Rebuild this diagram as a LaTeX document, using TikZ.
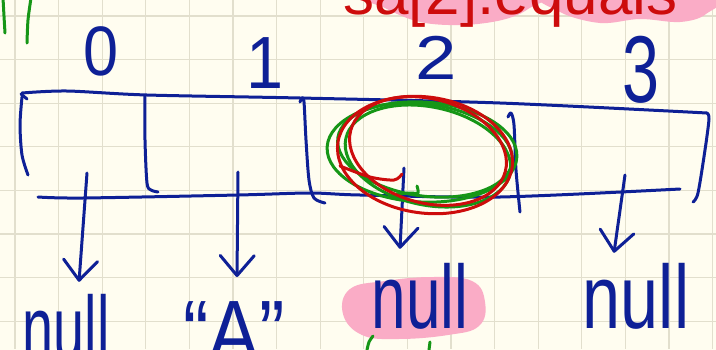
\documentclass[tikz,border=0pt]{standalone}
\usepackage{fontspec}
\usepackage{graphicx}
\setmainfont{Liberation Sans}
\usetikzlibrary{arrows.meta}
\definecolor{ink}{RGB}{14,32,150}
\definecolor{redink}{RGB}{205,12,12}
\definecolor{greenink}{RGB}{22,150,22}
\definecolor{hilite}{RGB}{250,172,198}
\definecolor{paper}{RGB}{255,253,240}
\definecolor{gridc}{RGB}{226,223,205}
\newcommand{\hwt}[2][0.68]{\scalebox{#1}[1]{#2}}
\begin{document}
\begin{tikzpicture}[x=1pt,y=-1pt,
  pen/.style={draw=ink, line width=3pt, line cap=round, line join=round},
  gpen/.style={draw=greenink, line width=3pt, line cap=round, line join=round},
  rpen/.style={draw=redink, line width=3pt, line cap=round, line join=round},
  lbl/.style={inner sep=0pt, outer sep=0pt, text=ink, anchor=base},
  arr/.style={pen, -{Straight Barb[length=20pt,width=34pt,line cap=round,line join=round]}},
  blob/.style={fill=hilite, draw=none}]
\useasboundingbox (0,0) rectangle (716,349);
\clip (0,0) rectangle (716,349);
\fill[paper] (-2,-2) rectangle (718,351);
% grid
\foreach \k in {0,...,16} \draw[gridc, line width=1.2pt] ({15+43.6*\k},0) -- ({15+43.6*\k},349);
\foreach \k in {0,...,7} \draw[gridc, line width=1.2pt] (0,{16+43.6*\k}) -- (716,{16+43.6*\k});

% highlight blobs
\fill[blob] plot[smooth cycle, tension=0.6] coordinates {(366,-6) (385,8) (420,22) (462,25) (502,20) (528,9) (536,-6)};
\fill[blob] plot[smooth cycle, tension=0.6] coordinates {(548,-6) (560,12) (600,23) (640,19) (680,22) (706,14) (714,-6)};
\fill[blob] plot[smooth cycle, tension=0.7] coordinates {(350,289) (385,281) (432,277) (472,281) (485,302) (479,326) (448,335) (398,339) (362,335) (343,314)};

% top red text (cut off by the page edge)
\node[inner sep=0pt, anchor=base west, text=redink, font=\fontsize{62}{62}\selectfont] (code) at (343,14) {sa[2].equals};

% green strokes top left
\draw[gpen] plot[smooth] coordinates {(3,-2) (4,16) (5,33)};
\draw[gpen] plot[smooth] coordinates {(31,-2) (28,20) (27,43)};

% index labels
\node[lbl, font=\fontsize{70}{70}\selectfont] (i0) at (101,75) {\hwt[0.9]{0}};
\node[lbl, font=\fontsize{74}{74}\selectfont] (i1) at (265,88) {\hwt[0.9]{1}};
\node[lbl, font=\fontsize{62}{62}\selectfont] (i2) at (436,79) {\hwt[1.2]{2}};
\node[lbl, font=\fontsize{95}{95}\selectfont] (i3) at (641,102) {\hwt[0.7]{3}};

% array outline
\draw[pen] plot[smooth, tension=0.5] coordinates {(22,93) (67,91) (147,95) (300,98) (500,103) (707,113)};
\draw[pen] (21,94) -- (27,99);
\draw[pen] plot[smooth] coordinates {(22,97) (20,125) (22,155) (28,175)};
\draw[pen] plot[smooth] coordinates {(707,113) (709,119) (705,150) (698,193) (693,202)};
\draw[pen] plot[smooth, tension=0.5] coordinates {(38,197) (83,198) (238,195) (310,193) (360,195) (500,197) (680,189)};
% dividers
\draw[pen] plot[smooth] coordinates {(145,96) (145,140) (147,183) (151,190) (158,192)};
\draw[pen] plot[smooth] coordinates {(300,102) (302,98) (304,102) (306,140) (309,180) (314,198) (325,203)};
\draw[pen] plot[smooth] coordinates {(508,117) (511,113) (514,125) (516,170) (520,212)};

% value labels
\node[lbl, font=\fontsize{90}{90}\selectfont] (n1) at (66,359) {\hwt[0.62]{null}};
\node[lbl, font=\fontsize{90}{90}\selectfont] (n2) at (234,363) {\hwt[0.85]{“A”}};
\node[lbl, font=\fontsize{90}{90}\selectfont] (n3) at (420,328) {\hwt[0.69]{null}};
\node[lbl, font=\fontsize{90}{90}\selectfont] (n4) at (636,328) {\hwt[0.76]{null}};

% arrows from cells to values
\coordinate (s1) at (87,173);
\coordinate (s2) at (238,172);
\coordinate (s3) at (404,168);
\coordinate (s4) at (625,175);
\draw[arr] (s1) -- ([xshift=13pt,yshift=12pt]n1.north);
\draw[arr] (s2) -- ([xshift=3pt,yshift=24pt]n2.north);
\draw[arr] (s3) -- ([xshift=-20pt,yshift=14pt]n3.north);
\draw[arr] (s4) -- ([xshift=-22pt,yshift=10pt]n4.north);

% green circling
\draw[gpen] (422,152) ellipse[x radius=95, y radius=50, rotate=-3];
\draw[gpen] (425,150) ellipse[x radius=88, y radius=46, rotate=-8];
\draw[gpen] (428,156) ellipse[x radius=84, y radius=49, rotate=-12];
\draw[gpen] plot[smooth] coordinates {(396,194) (410,193) (418,193) (417,186)};
% red circling
\draw[rpen] (425,155) ellipse[x radius=88, y radius=58, rotate=-8];
\draw[rpen] (428,151) ellipse[x radius=80, y radius=52, rotate=-15];
\draw[rpen] plot[smooth] coordinates {(402,174) (394,180) (370,177) (340,166)};

% green strokes at the bottom
\draw[gpen] plot[smooth] coordinates {(373,336) (369,342) (367,350)};
\draw[gpen] (430,342) -- (429,350);
\end{tikzpicture}
\end{document}
